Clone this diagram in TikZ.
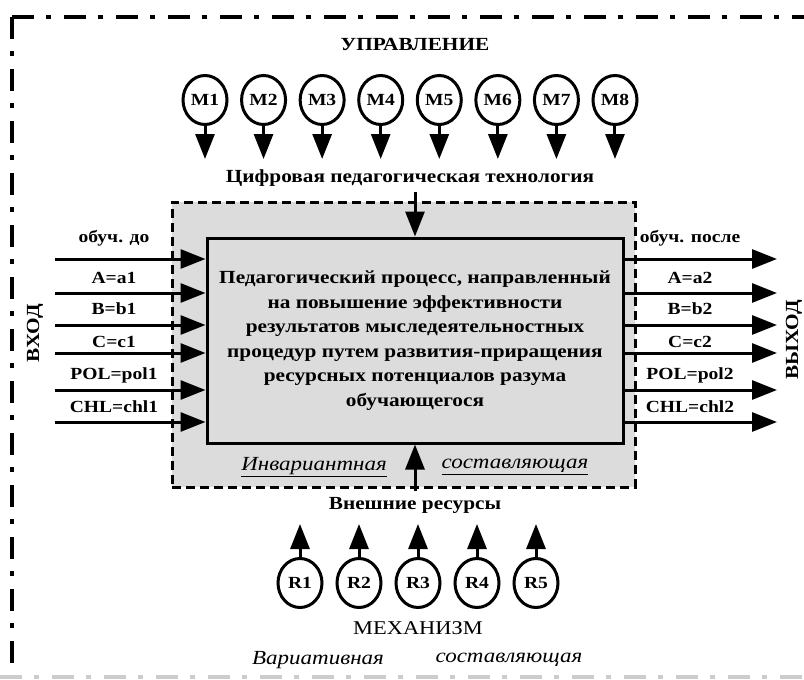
\documentclass[tikz,border=0pt]{standalone}
\usepackage{fontspec}
\setmainfont{Liberation Serif}[FakeStretch=1.15]
\usetikzlibrary{arrows.meta,shapes.geometric}
\definecolor{boxgray}{RGB}{220,220,220}
\begin{document}
\begin{tikzpicture}[x=1pt,y=-1pt,
  arr/.style={line width=3pt,-{Triangle[length=25pt,width=19pt]}},
  lab/.style={font=\fontsize{17}{20}\selectfont\bfseries,inner sep=0pt},
  ttl/.style={font=\fontsize{18.5}{22}\selectfont\bfseries,inner sep=0pt},
  mcirc/.style={ellipse,draw,line width=3pt,minimum width=44pt,minimum height=49pt,inner sep=0pt,font=\fontsize{17}{18}\selectfont\bfseries},
  ital/.style={font=\fontsize{20}{22}\selectfont\itshape,inner sep=0pt},
  frame/.style={line width=4pt,dash pattern=on 22pt off 12pt on 5pt off 13pt}]
\useasboundingbox (0,0) rectangle (804,680);
\fill[white] (0,0) rectangle (804,680);
% outer frame
\coordinate (fc) at (12,17);
\coordinate (fr) at (804,17);
\coordinate (fb) at (12,668);
\draw[frame] (fc) -- (fr);
\draw[frame] (fc) -- (fb);
\coordinate (bl) at (0,677);
\coordinate (br) at (804,677);
\draw[frame,black!20] (bl) -- (br);
% titles
\node[ttl] (upr) at (415,44) {УПРАВЛЕНИЕ};
\node[ttl] (tech) at (410,178) {Цифровая педагогическая технология};
\node[ttl] (res) at (415,505) {Внешние ресурсы};
\node[font=\fontsize{19.5}{22}\selectfont,inner sep=0pt] (mech) at (418,628) {МЕХАНИЗМ};
\node[ital] (var1) at (318,660) {Вариативная};
\node[ital] (var2) at (509,660) {составляющая};
\node[ttl,rotate=90] (vhod) at (35,333) {ВХОД};
\node[ttl,rotate=90] (vyhod) at (794,340) {ВЫХОД};
% boxes
\node[draw,fill=boxgray,line width=3pt,dash pattern=on 9pt off 5pt,minimum width=463pt,minimum height=285pt,inner sep=0pt] (outer) at (403.5,344.5) {};
\node[draw,fill=boxgray,line width=3pt,minimum width=416pt,minimum height=205pt,inner sep=0pt,align=center,font=\fontsize{18.5}{24.5}\selectfont\bfseries] (proc) at (415,340.5)
 {Педагогический процесс, направленный\\на повышение эффективности\\результатов мыследеятельностных\\процедур путем развития-приращения\\ресурсных потенциалов разума\\обучающегося};
\node[ital] (inv1) at (314,467) {\underline{Инвариантная}};
\node[ital] (inv2) at (515,467) {\underline{составляющая}};
% M circles
\foreach \i in {1,...,8}{
  \node[mcirc] (m\i) at ({205+58.57*(\i-1)},100) {M\i};
  \draw[arr] (m\i.south) -- ++(0,33);
}
% R circles
\foreach \i in {1,...,5}{
  \node[mcirc] (r\i) at ({300+59*(\i-1)},583) {R\i};
  \draw[arr] (r\i.north) -- ++(0,-33);
}
% vertical arrows into process
\coordinate (techend) at (415,192);
\coordinate (resend) at (415,491);
\draw[arr] (techend) -- (proc.north -| techend);
\draw[arr] (resend) -- (proc.south -| resend);
% inputs / outputs
\foreach \y/\a/\b/\ly [count=\k] in {259/обуч. до/обуч. после/238, 293/A=a1/A=a2/278, 325/B=b1/B=b2/309, 353/C=c1/C=c2/342, 390/POL=pol1/POL=pol2/375, 422/CHL=chl1/CHL=chl2/407}{
  \coordinate (in\k) at (55,\y);
  \coordinate (out\k) at (777,\y);
  \draw[arr] (in\k) -- (proc.west |- in\k);
  \draw[arr] (proc.east |- out\k) -- (out\k);
  \node[lab] (li\k) at (114,\ly) {\a};
  \node[lab] (lo\k) at (690,\ly) {\b};
}
\end{tikzpicture}
\end{document}
